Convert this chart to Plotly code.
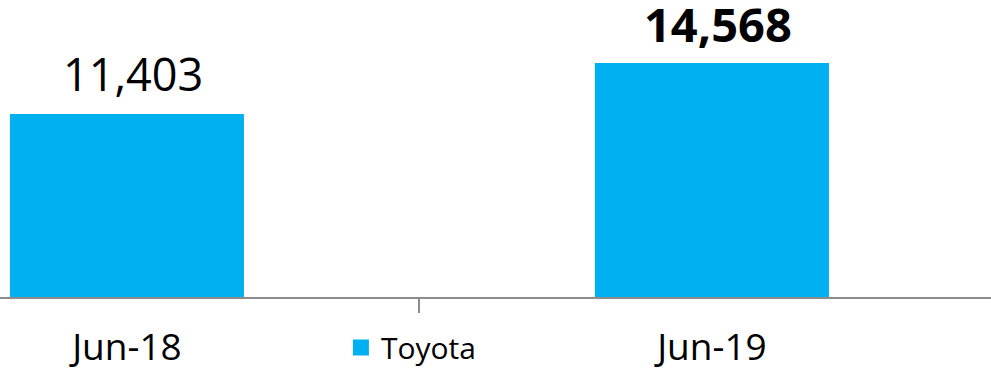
import plotly.graph_objects as go

# Monthly sales figures
categories = ["Jun-18", "Jun-19"]
toyota = [11403, 14568]
series_name = "Toyota"

BAR_COLOR = "#00B0F0"
FONT = "Open Sans"

fig = go.Figure()

fig.add_trace(go.Bar(
    x=categories,
    y=toyota,
    width=0.4,
    marker=dict(color=BAR_COLOR, line=dict(width=0)),
    showlegend=False,
    hoverinfo="skip",
))

# Legend entry with a larger square swatch
fig.add_trace(go.Scatter(
    x=[None], y=[None],
    mode="markers",
    name=series_name,
    marker=dict(symbol="square", size=20, color=BAR_COLOR),
))

# Value labels above the bars; the latest value is emphasised
for i, (cat, val) in enumerate(zip(categories, toyota)):
    label = f"{val:,}"
    is_latest = i == len(toyota) - 1
    fig.add_annotation(
        x=cat, y=val,
        text=f"<b>{label}</b>" if is_latest else label,
        showarrow=False,
        yanchor="bottom",
        yshift=5 if is_latest else 8,
        xshift=6,
        font=dict(family=FONT, size=47 if is_latest else 45, color="#000000"),
    )

fig.update_layout(
    width=991, height=369,
    margin=dict(l=0, r=0, t=0, b=72, autoexpand=False),
    paper_bgcolor="white",
    plot_bgcolor="white",
    font=dict(family=FONT, color="#000000"),
    showlegend=True,
    legend=dict(
        orientation="h",
        x=0.344, xanchor="left",
        y=-0.17, yanchor="middle",
        font=dict(family=FONT, size=30, color="#000000"),
        bgcolor="rgba(0,0,0,0)",
    ),
    xaxis=dict(
        type="category",
        range=[-0.217, 1.477],
        showline=True,
        linecolor="#8c8c8c",
        linewidth=2,
        ticks="outside",
        tickson="boundaries",
        ticklen=14,
        tickwidth=1.5,
        tickcolor="#8c8c8c",
        ticklabelstandoff=17,
        tickfont=dict(family=FONT, size=37, color="#000000"),
        showgrid=False,
        zeroline=False,
    ),
    yaxis=dict(
        range=[0, 18500],
        visible=False,
        showgrid=False,
        zeroline=False,
    ),
)

fig.write_html("out.html")
